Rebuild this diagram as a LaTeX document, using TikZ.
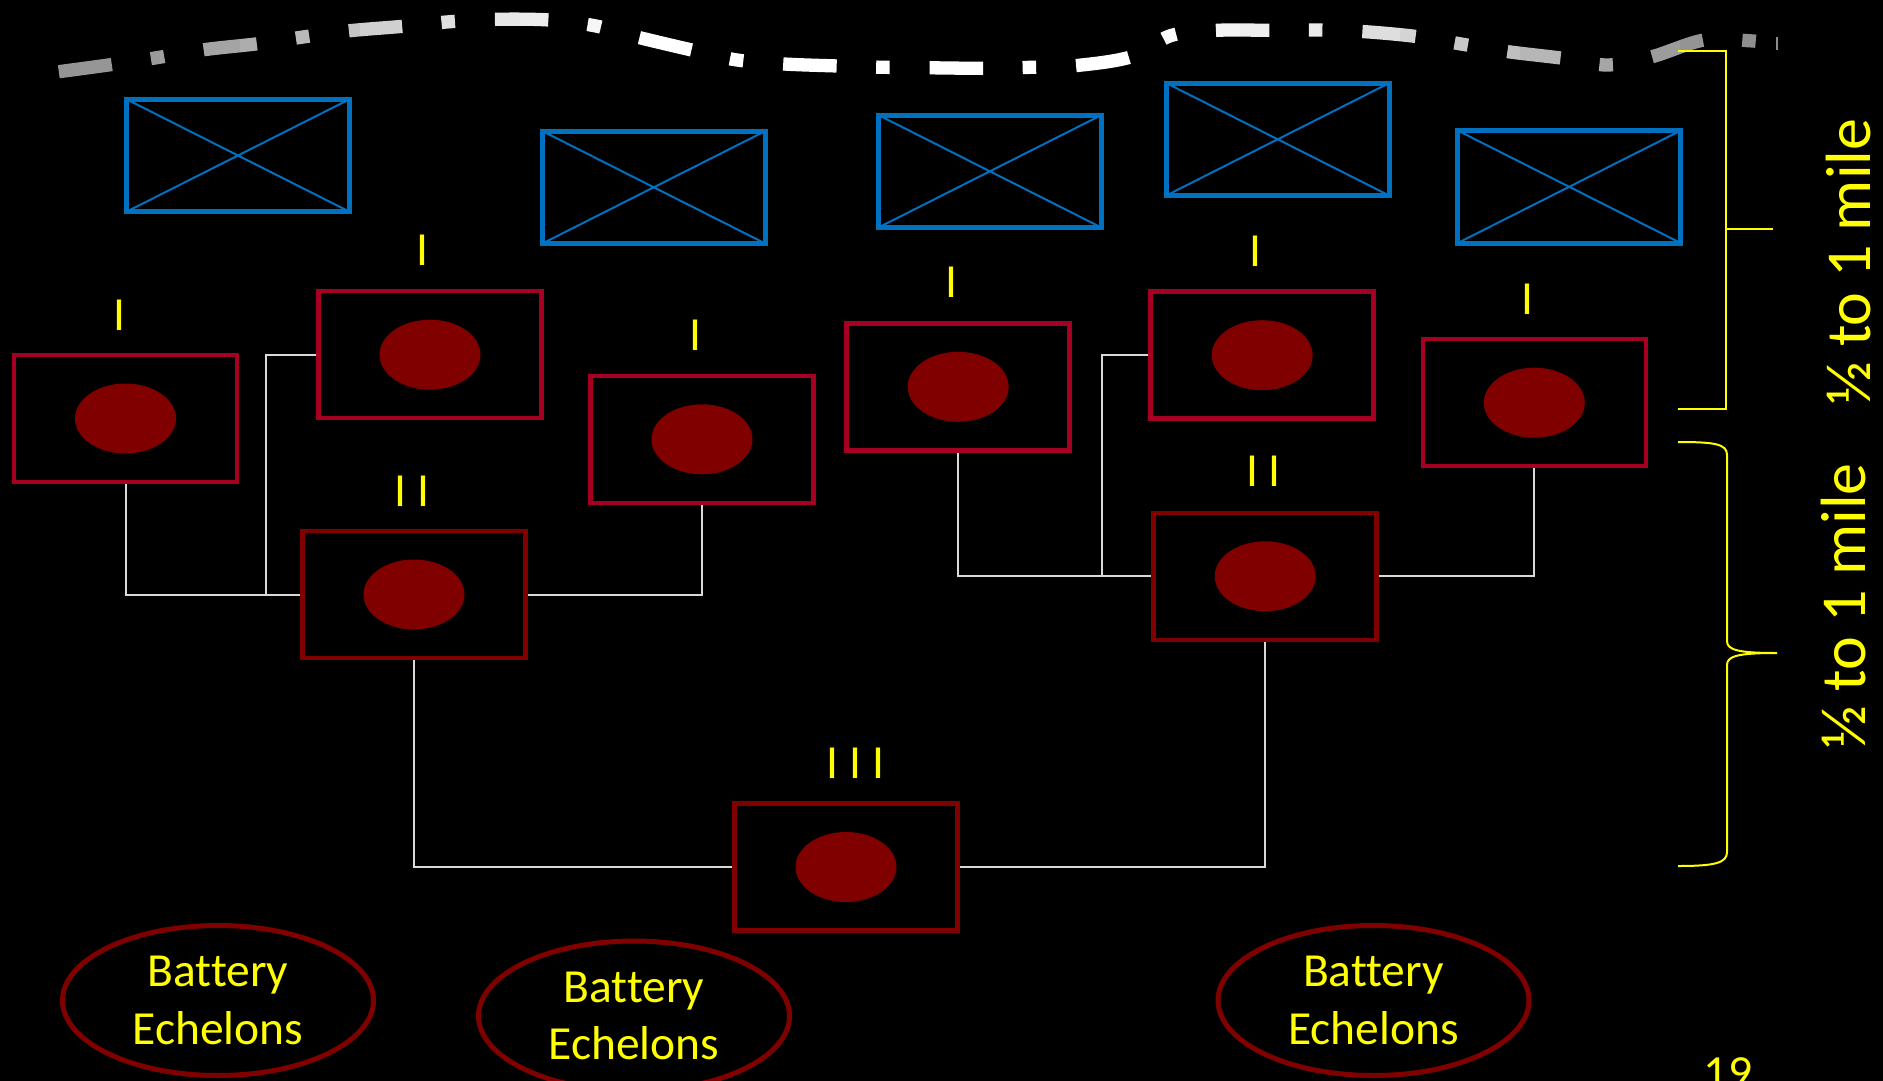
\documentclass[tikz,border=0pt]{standalone}
\usepackage{fontspec}
\setmainfont{Carlito}[Ligatures=NoCommon]
\usetikzlibrary{shapes.geometric}
\definecolor{boxred}{HTML}{A50021}
\definecolor{darkmaroon}{HTML}{800000}
\definecolor{hqblue}{HTML}{0070C0}
\definecolor{linkgray}{HTML}{D9D9D9}
\definecolor{yel}{HTML}{FFFF00}
\tikzset{
  btybox/.style={draw=boxred, line width=4.5pt, minimum width=223pt, minimum height=127pt, inner sep=0pt},
  bnbox/.style={btybox, draw=darkmaroon},
  gun/.style={ellipse, fill=darkmaroon, minimum width=101pt, minimum height=70pt, inner sep=0pt},
  hq/.style={draw=hqblue, line width=5pt, minimum width=223pt, minimum height=112.5pt, inner sep=0pt, outer sep=0pt},
  hqx/.style={draw=hqblue, line width=2pt},
  echlab/.style={text=yel, font=\fontsize{47.5}{57.7}\selectfont, anchor=base, inner sep=0pt},
  link/.style={draw=linkgray, line width=2pt},
  echelon/.style={ellipse, draw=darkmaroon, line width=5pt, minimum width=311pt, minimum height=150pt, text=yel, align=center, font=\fontsize{47.5}{57.7}\selectfont},
  dist/.style={text=yel, font=\fontsize{64}{70}\selectfont, rotate=90, anchor=base, inner sep=0pt},
  bracket/.style={draw=yel, line width=2pt},
}
\begin{document}
\begin{tikzpicture}[x=1pt, y=-1pt]
\useasboundingbox (0,0) rectangle (1883,1081);
\clip (0,0) rectangle (1883,1081);
\fill[black] (0,0) rectangle (1883,1081);

% front line (dash-dot, grey-white-grey)
\foreach \xa/\xb/\p in {0/80/58, 80/120/59, 120/160/60.5, 160/200/62.5, 200/240/64.5, 240/280/68, 280/320/72.5, 320/360/77, 360/400/81.5, 400/440/84.5, 440/480/87.5, 480/520/90.5, 520/560/93.5, 560/600/96.5, 600/640/99, 640/1160/100, 1160/1200/98, 1200/1240/95.5, 1240/1280/93.5, 1280/1320/92.5, 1320/1360/90, 1360/1400/87, 1400/1440/83, 1440/1480/78.5, 1480/1520/75, 1520/1560/71.5, 1560/1600/68.5, 1600/1640/65, 1640/1680/61, 1680/1720/58, 1720/1883/55.5}{
  \begin{scope}
    \clip (\xa,-20) rectangle (\xb,110);
    \draw[draw=white!\p!black, line width=13.3pt, dash pattern=on 53.5pt off 39.5pt on 13.5pt off 40pt]
      plot[smooth, tension=0.55] coordinates {(58.8,71.7) (112,64.5) (158,57.5) (204,49.7) (258,43.7) (303,37) (349,30.8) (403,26.3) (449,21.8) (496,19.3) (549,20) (595,25.8) (639,37.5) (693,50.3) (737,60) (784,64) (838,66) (884,67.3) (931,67.8) (984,68.3) (1031,67.3) (1077,65.5) (1131.5,56.7) (1171,35.5) (1218,30.3) (1271,30.3) (1318,30) (1365,31.7) (1418,36.7) (1464,44.5) (1508,51.7) (1563,58.3) (1608,65) (1652,56.7) (1704,40) (1750,40.8) (1778,44)};
  \end{scope}
}
\draw[draw=white!55!black, line width=2.5pt] (1777,37.5) -- (1777,50.5);

% infantry (blue) symbols
\node[hq] (h1) at (238,155.5) {};
\node[hq] (h2) at (653.8,187.3) {};
\node[hq] (h3) at (989.9,171.3) {};
\node[hq] (h4) at (1277.7,139.3) {};
\node[hq] (h5) at (1569.2,186.8) {};
\foreach \h in {h1,h2,h3,h4,h5}{
  \draw[hqx] (\h.north west) -- (\h.south east) (\h.south west) -- (\h.north east);
}

% battery boxes
\node[btybox] (r1) at (125.5,418.5) {};
\node[btybox] (r2) at (430,354.7) {};
\node[btybox] (r3) at (702,439.3) {};
\node[btybox] (r4) at (958.2,386.8) {};
\node[btybox] (r5) at (1262.2,355.2) {};
\node[btybox] (r6) at (1534.3,402.7) {};
\node[bnbox] (rL) at (414,594.5) {};
\node[bnbox] (rR) at (1265.2,576.3) {};
\node[bnbox] (rX) at (846,867) {};
\foreach \r in {r1,r2,r3,r4,r5,r6,rL,rR,rX}{
  \node[gun] (g\r) at (\r) {};
}

% echelon labels
\node[echlab] (l1) at (119,330) {I};
\node[echlab] (l2) at (422.5,265.7) {I};
\node[echlab] (l3) at (695.1,350) {I};
\node[echlab] (l4) at (951.4,297.7) {I};
\node[echlab] (l5) at (1255.3,266) {I};
\node[echlab] (l6) at (1527.4,314) {I};
\node[echlab] (lL) at (412,506) {I I};
\node[echlab] (lR) at (1263.5,486.7) {I I};
\node[echlab] (lX) at (855.3,778) {I I I};

% connectors
\coordinate (jL) at (266.4,594.5);
\coordinate (jR) at (1101.8,576.3);
\draw[link] (r1.south) |- (rL.west);
\draw[link] (r2.west) -| (jL);
\draw[link] (r3.south) |- (rL.east);
\draw[link] (rL.south) |- (rX.west);
\draw[link] (r4.south) |- (rR.west);
\draw[link] (r5.west) -| (jR);
\draw[link] (r6.south) |- (rR.east);
\draw[link] (rR.south) |- (rX.east);

% battery echelons
\node[echelon] (e1) at (218,1000.5) {Battery\\Echelons};
\node[echelon] (e2) at (634,1016) {Battery\\Echelons};
\node[echelon] (e3) at (1373.5,1000.5) {Battery\\Echelons};

% distance brackets
\draw[bracket] (1678,50.7) -- (1726,50.7) -- (1726,409) -- (1678,409);
\draw[bracket] (1726,229) -- (1773,229);
\draw[bracket] (1678,442) .. controls (1715,442) and (1727,444) .. (1727,455) -- (1727,641)
  .. controls (1727,650) and (1738,653) .. (1777,653)
  .. controls (1738,653) and (1727,656) .. (1727,665) -- (1727,852)
  .. controls (1727,863) and (1715,866) .. (1678,866);
\node[dist] (d1) at (1870,261.5) {½ to 1 mile};
\node[dist] (d2) at (1865,606) {½ to 1 mile};

% page number
\node[echlab] (pg) at (1728,1088) {19};
\end{tikzpicture}
\end{document}
